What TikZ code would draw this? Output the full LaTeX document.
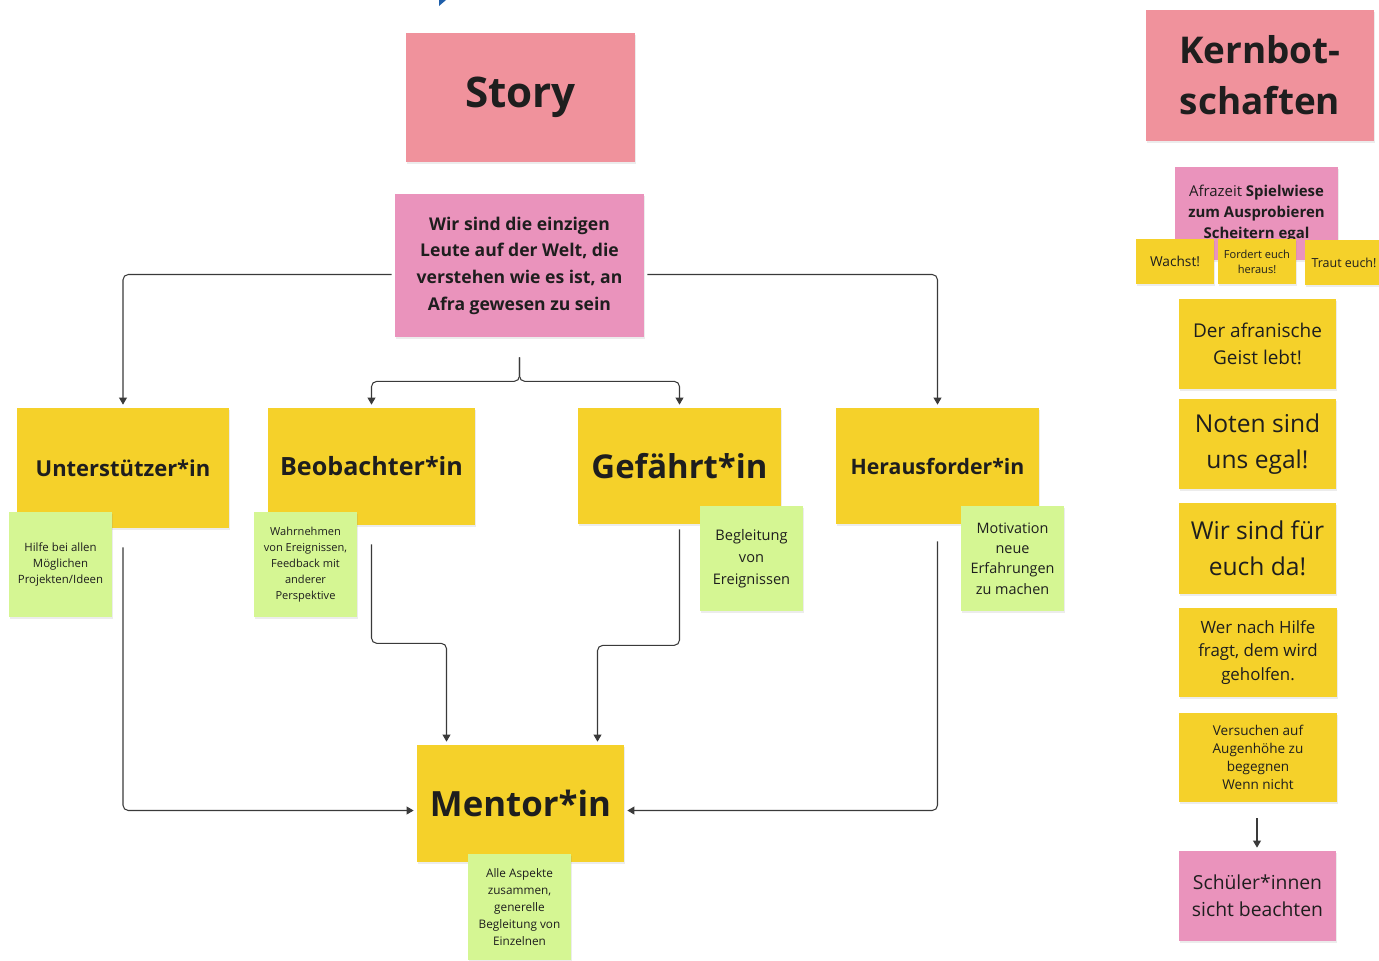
\documentclass[tikz,border=0pt]{standalone}
\usepackage{fontspec}
\setmainfont{Open Sans}
\usepackage{tikz}
\usetikzlibrary{calc, arrows.meta, shadows}
\definecolor{storyred}{HTML}{F0929C}
\definecolor{notepink}{HTML}{EA93BC}
\definecolor{noteyellow}{HTML}{F5D12A}
\definecolor{notegreen}{HTML}{D5F693}
\definecolor{inkgrey}{HTML}{1E1E1E}
\definecolor{lineGrey}{HTML}{3A3A3A}
\definecolor{markblue}{HTML}{1F5FAA}
\tikzstyle{note}      = [inner sep=0pt, align=center, text=inkgrey,
                         drop shadow={shadow xshift=0.4pt, shadow yshift=-1.2pt, opacity=0.15}]
\tikzstyle{redNote}   = [note, fill=storyred]
\tikzstyle{pinkNote}  = [note, fill=notepink]
\tikzstyle{yellowNote}= [note, fill=noteyellow]
\tikzstyle{greenNote} = [note, fill=notegreen]
\tikzstyle{conn}      = [draw=lineGrey, line width=0.6pt, rounded corners=3pt,
                         -{Triangle[length=4pt,width=4.5pt]}]
\newcommand{\fs}[2]{\fontsize{#1}{#2}\selectfont}

\begin{document}
\begin{tikzpicture}[x=0.02cm, y=-0.02cm]
  \useasboundingbox (0,0) rectangle (1379,960);

  %small mark at the top edge
  \fill[markblue] (439,0) -- (446,0) -- (439,6) -- cycle;

  %headings
  \node[redNote, minimum width=229*0.02cm, minimum height=129*0.02cm,
        font=\fs{24}{29}\bfseries] (story) at (520.5,97.5) {Story};
  \node[redNote, minimum width=228*0.02cm, minimum height=131*0.02cm,
        font=\fs{21}{29}\bfseries] (kern) at (1260,75.5) {Kernbot-\\ schaften};

  %story and the four roles
  \node[pinkNote, minimum width=249*0.02cm, minimum height=143*0.02cm,
        font=\fs{10}{15.2}\bfseries] (wir) at (519.5,265.5)
    {Wir sind die einzigen\\ Leute auf der Welt, die\\ verstehen wie es ist, an\\ Afra gewesen zu sein};
  \node[yellowNote, minimum width=212*0.02cm, minimum height=120*0.02cm,
        font=\fs{12.5}{15}\bfseries] (unter) at (123,468) {Unterstützer*in};
  \node[yellowNote, minimum width=207*0.02cm, minimum height=117*0.02cm,
        font=\fs{14.3}{17}\bfseries] (beob) at (371.5,466.5) {Beobachter*in};
  \node[yellowNote, minimum width=203*0.02cm, minimum height=116*0.02cm,
        font=\fs{18.7}{22}\bfseries] (gef) at (679.5,466) {Gefährt*in};
  \node[yellowNote, minimum width=203*0.02cm, minimum height=116*0.02cm,
        font=\fs{12.1}{15}\bfseries] (her) at (937.5,466) {Herausforder*in};
  \node[yellowNote, minimum width=207*0.02cm, minimum height=117*0.02cm,
        font=\fs{19.8}{24}\bfseries] (mentor) at (520.5,803.5) {Mentor*in};

  %green notes on the roles
  \node[greenNote, minimum width=103*0.02cm, minimum height=105*0.02cm,
        font=\fs{6.5}{9}] (hilfe) at (60.5,564.5) {Hilfe bei allen\\ Möglichen\\ Projekten/Ideen};
  \node[greenNote, minimum width=103*0.02cm, minimum height=105*0.02cm,
        font=\fs{6.3}{9}] (wahr) at (305.5,564.5)
    {Wahrnehmen\\ von Ereignissen,\\ Feedback mit\\ anderer\\ Perspektive};
  \node[greenNote, minimum width=103*0.02cm, minimum height=105*0.02cm,
        font=\fs{8.3}{12.5}] (begl) at (751.5,558.5) {Begleitung\\ von\\ Ereignissen};
  \node[greenNote, minimum width=103*0.02cm, minimum height=105*0.02cm,
        font=\fs{8.2}{11.6}] (moti) at (1012.5,558.5) {Motivation\\ neue\\ Erfahrungen\\ zu machen};
  \node[greenNote, minimum width=103*0.02cm, minimum height=106*0.02cm,
        font=\fs{6.7}{9.6}] (alle) at (519.5,907)
    {Alle Aspekte\\ zusammen,\\ generelle\\ Begleitung von\\ Einzelnen};

  %connectors
  \draw[conn] ([shift={(-3,9)}]wir.west) -| ([shift={(0,-3)}]unter.north);
  \draw[conn] ([shift={(3,9)}]wir.east) -| ([shift={(0,-3)}]her.north);
  \draw[conn] ([shift={(0,20)}]wir.south) -- ++(0,24) -| ([shift={(0,-3)}]beob.north);
  \draw[conn] ([shift={(0,20)}]wir.south) -- ++(0,24) -| ([shift={(0,-3)}]gef.north);
  \draw[conn] ([shift={(0,19)}]unter.south) |- ([shift={(-3,7)}]mentor.west);
  \draw[conn] ([shift={(0,17)}]her.south) |- ([shift={(3,7)}]mentor.east);
  \draw[conn] ([shift={(0,19)}]beob.south) -- ++(0,99) -| ([shift={(-74,-3)}]mentor.north);
  \draw[conn] ([shift={(0,5)}]gef.south) -- ++(0,116) -| ([shift={(77,-3)}]mentor.north);

  %key messages on the right
  \node[pinkNote, minimum width=163*0.02cm, minimum height=93*0.02cm,
        font=\fs{8.5}{11.9}] (afra) at (1256.5,213.5)
    {Afrazeit \textbf{Spielwiese}\\ \textbf{zum Ausprobieren}\\ \textbf{Scheitern egal}};
  \node[yellowNote, minimum width=78*0.02cm, minimum height=45*0.02cm,
        font=\fs{7.8}{10}] (wachst) at (1175,261.5) {Wachst!};
  \node[yellowNote, minimum width=78*0.02cm, minimum height=45*0.02cm,
        font=\fs{6.3}{8.5}] (fordert) at (1257,261.5) {Fordert euch\\ heraus!};
  \node[yellowNote, minimum width=78*0.02cm, minimum height=45*0.02cm,
        font=\fs{7.1}{10}] (traut) at (1344,262.5) {Traut euch!};
  \node[yellowNote, minimum width=157*0.02cm, minimum height=90*0.02cm,
        font=\fs{10.8}{15.3}] (geist) at (1257.5,344) {Der afranische\\ Geist lebt!};
  \node[yellowNote, minimum width=157*0.02cm, minimum height=90*0.02cm,
        font=\fs{14}{20.4}] (noten) at (1257.5,444) {Noten sind\\ uns egal!};
  \node[yellowNote, minimum width=157*0.02cm, minimum height=91*0.02cm,
        font=\fs{14}{20.4}] (fuer) at (1257.5,548.5) {Wir sind für\\ euch da!};
  \node[yellowNote, minimum width=158*0.02cm, minimum height=89*0.02cm,
        font=\fs{9.6}{13.6}] (wer) at (1258,652.5) {Wer nach Hilfe\\ fragt, dem wird\\ geholfen.};
  \node[yellowNote, minimum width=158*0.02cm, minimum height=89*0.02cm,
        font=\fs{7.7}{10.2}] (augen) at (1258,757.5) {Versuchen auf\\ Augenhöhe zu\\ begegnen\\ Wenn nicht};
  \node[pinkNote, minimum width=157*0.02cm, minimum height=90*0.02cm,
        font=\fs{11}{15.3}] (schueler) at (1257.5,896) {Schüler*innen\\ sicht beachten};

  \draw[conn, rounded corners=0pt] ([shift={(-1,16)}]augen.south) -- ([shift={(-0.5,-3)}]schueler.north);
\end{tikzpicture}
\end{document}
